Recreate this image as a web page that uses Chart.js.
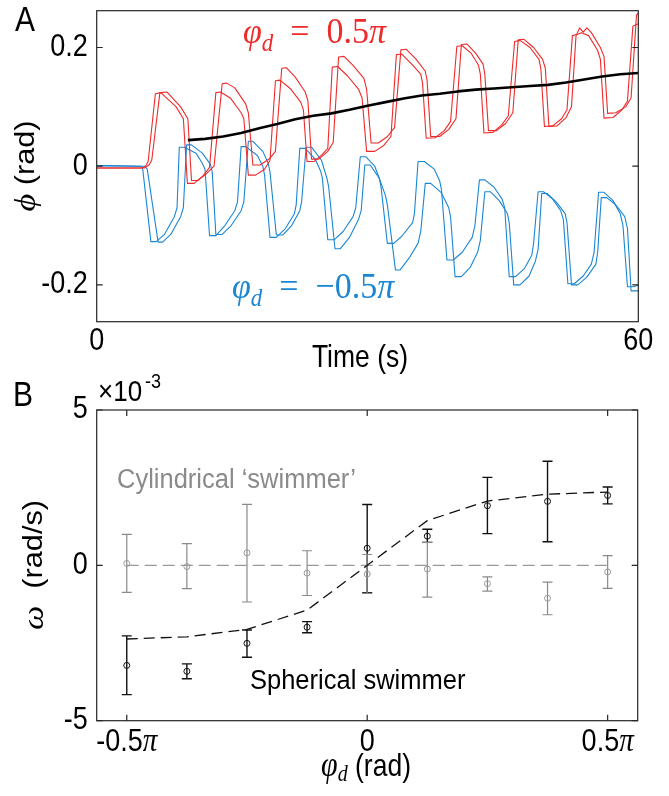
<!DOCTYPE html>
<html>
<head>
<meta charset="utf-8">
<script src="https://cdn.jsdelivr.net/npm/chart.js@4.4.1/dist/chart.umd.min.js"></script>
<style>
  html, body { margin: 0; padding: 0; background: #fff; }
  body { width: 669px; height: 796px; position: relative; overflow: hidden; }
  canvas { position: absolute; left: 0; }
  #chartA { top: 0; }
  #chartB { top: 365px; }
</style>
</head>
<body>
<canvas id="chartA" width="669" height="380"></canvas>
<canvas id="chartB" width="669" height="431"></canvas>
<script>
// ---- panel A: phi(t) for phi_d = +0.5pi (red) and -0.5pi (blue), two runs each ----
var tRed1 = [0, 5.0, 5.4, 5.7, 6.5, 7.1, 8.8, 9.6, 10.05, 10.8, 11.8, 12.5,
  13.2, 13.7, 14.8, 16.0, 16.3, 16.8, 17.6, 18.6, 19.2,
  19.8, 20.3, 21.5, 22.6, 22.9, 23.3, 24.1, 25.0, 25.6,
  26.1, 26.7, 27.8, 29.0, 29.4, 29.9, 30.8, 31.8, 32.6,
  33.2, 33.8, 34.9, 35.9, 36.1, 36.5, 37.5, 38.5, 39.2,
  39.9, 40.5, 41.5, 42.3, 42.5, 42.9, 43.9, 44.9, 45.6,
  46.3, 46.9, 48.0, 49.0, 49.2, 49.6, 50.5, 51.5, 52.1,
  52.7, 53.2, 53.7, 54.5, 55.5, 55.8, 56.2, 57.2, 58.2, 58.8,
  59.4, 60];
var phiRed1 = [-0.003, -0.003, 0.0, 0.008, 0.122, 0.124, 0.100, 0.080, -0.029, -0.029, -0.016, -0.002,
  0.124, 0.125, 0.115, 0.090, 0.080, -0.015, -0.015, -0.005, 0.010,
  0.144, 0.145, 0.130, 0.108, 0.095, 0.008, 0.008, 0.020, 0.030,
  0.167, 0.168, 0.152, 0.130, 0.115, 0.025, 0.025, 0.035, 0.050,
  0.188, 0.189, 0.172, 0.155, 0.140, 0.047, 0.048, 0.060, 0.075,
  0.202, 0.203, 0.190, 0.170, 0.155, 0.056, 0.057, 0.070, 0.085,
  0.210, 0.212, 0.200, 0.180, 0.165, 0.067, 0.068, 0.080, 0.095,
  0.220, 0.222, 0.225, 0.220, 0.195, 0.180, 0.081, 0.082, 0.095, 0.110,
  0.236, 0.240];

var tRed2 = [0, 5.3, 5.8, 6.1, 7.0, 7.8, 9.3, 10.1, 10.5, 11.2, 12.2, 13.0,
  13.9, 14.4, 15.3, 16.5, 16.8, 17.3, 18.1, 19.1, 19.8,
  20.5, 21.0, 22.0, 23.1, 23.4, 23.8, 24.6, 25.6, 26.2,
  26.8, 27.4, 28.4, 29.6, 29.9, 30.4, 31.2, 32.2, 33.0,
  33.7, 34.3, 35.4, 36.4, 36.6, 37.0, 38.0, 39.0, 39.8,
  40.4, 41.0, 42.0, 42.8, 43.0, 43.4, 44.3, 45.3, 46.1,
  46.7, 47.3, 48.4, 49.4, 49.7, 50.1, 51.0, 52.0, 52.6,
  53.1, 53.5, 53.9, 54.3, 54.8, 55.8, 56.2, 56.6, 57.5, 58.6, 59.2,
  59.8, 60];
var phiRed2 = [-0.003, -0.003, 0.002, 0.010, 0.124, 0.125, 0.100, 0.080, -0.024, -0.024, -0.012, 0.0,
  0.139, 0.140, 0.132, 0.105, 0.090, 0.002, 0.002, 0.012, 0.025,
  0.165, 0.166, 0.150, 0.125, 0.110, 0.012, 0.012, 0.025, 0.040,
  0.184, 0.185, 0.170, 0.148, 0.130, 0.039, 0.039, 0.050, 0.065,
  0.196, 0.197, 0.180, 0.160, 0.145, 0.050, 0.050, 0.062, 0.080,
  0.205, 0.206, 0.190, 0.172, 0.155, 0.060, 0.060, 0.072, 0.090,
  0.213, 0.214, 0.200, 0.180, 0.165, 0.067, 0.068, 0.082, 0.100,
  0.220, 0.233, 0.226, 0.233, 0.225, 0.200, 0.185, 0.089, 0.090, 0.100, 0.115,
  0.255, 0.258];

var tBlue1 = [0, 4.9, 5.1, 6.0, 6.6, 7.5, 8.6, 8.9, 9.15, 9.7, 11.0, 11.7,
  12.0, 12.5, 13.2, 14.2, 15.3, 15.6, 16.0, 16.5, 17.8, 18.4,
  18.6, 19.2, 19.9, 20.9, 21.9, 22.1, 22.5, 23.1, 24.2, 24.8,
  25.0, 25.6, 26.3, 27.3, 28.4, 28.7, 29.2, 29.8, 30.8, 31.3,
  31.5, 32.2, 32.9, 33.8, 35.0, 35.2, 35.6, 36.3, 37.4, 38.0,
  38.2, 38.8, 39.5, 40.5, 41.6, 41.9, 42.4, 43.0, 44.0, 44.9,
  45.2, 45.7, 46.4, 47.4, 48.2, 48.4, 48.9, 49.5, 50.5, 51.4,
  51.7, 52.2, 52.9, 53.9, 54.8, 55.1, 55.6, 56.2, 57.2, 58.0,
  58.3, 58.8, 59.5, 60];
var phiBlue1 = [0.001, 0.0, -0.005, -0.127, -0.127, -0.115, -0.085, -0.070, 0.032, 0.032, 0.022, 0.005,
  -0.005, -0.117, -0.117, -0.100, -0.075, -0.060, 0.033, 0.033, 0.018, 0.0,
  -0.015, -0.120, -0.120, -0.105, -0.080, -0.065, 0.030, 0.030, 0.012, -0.008,
  -0.020, -0.124, -0.124, -0.110, -0.085, -0.070, 0.016, 0.016, 0.0, -0.020,
  -0.035, -0.130, -0.130, -0.118, -0.095, -0.080, 0.008, 0.008, -0.005, -0.025,
  -0.040, -0.158, -0.158, -0.145, -0.120, -0.100, -0.023, -0.023, -0.035, -0.055,
  -0.070, -0.186, -0.186, -0.172, -0.150, -0.130, -0.043, -0.043, -0.055, -0.075,
  -0.090, -0.198, -0.198, -0.185, -0.165, -0.145, -0.044, -0.044, -0.058, -0.080,
  -0.100, -0.203, -0.203, -0.200];

var tBlue2 = [0, 5.3, 5.6, 6.8, 7.3, 8.2, 9.3, 9.6, 9.96, 10.5, 11.7, 12.6,
  12.8, 13.2, 13.9, 14.9, 16.0, 16.3, 16.8, 17.3, 18.4, 19.0,
  19.2, 19.9, 20.6, 21.6, 22.5, 22.7, 23.2, 23.8, 24.9, 25.5,
  25.7, 26.4, 27.0, 28.0, 29.0, 29.3, 29.7, 30.3, 31.3, 32.0,
  32.2, 33.1, 33.6, 34.6, 35.6, 35.9, 36.4, 37.0, 38.2, 39.0,
  39.2, 39.7, 40.4, 41.4, 42.2, 42.5, 43.0, 43.6, 44.6, 45.5,
  45.7, 46.2, 46.9, 47.9, 48.6, 48.9, 49.3, 49.9, 50.9, 51.9,
  52.1, 52.6, 53.3, 54.3, 55.3, 55.5, 55.9, 56.5, 57.5, 58.5,
  58.8, 59.2, 60];
var phiBlue2 = [0.001, 0.0, -0.005, -0.128, -0.128, -0.115, -0.085, -0.070, 0.036, 0.036, 0.022, 0.003,
  -0.010, -0.115, -0.115, -0.100, -0.075, -0.060, 0.042, 0.042, 0.025, 0.005,
  -0.010, -0.116, -0.116, -0.100, -0.075, -0.060, 0.032, 0.032, 0.010, -0.020,
  -0.035, -0.139, -0.139, -0.120, -0.090, -0.075, 0.002, 0.002, -0.020, -0.050,
  -0.065, -0.175, -0.175, -0.155, -0.130, -0.110, -0.029, -0.029, -0.045, -0.070,
  -0.085, -0.186, -0.186, -0.170, -0.145, -0.125, -0.043, -0.043, -0.058, -0.080,
  -0.095, -0.200, -0.200, -0.185, -0.160, -0.140, -0.046, -0.046, -0.060, -0.080,
  -0.095, -0.200, -0.200, -0.187, -0.165, -0.145, -0.053, -0.053, -0.065, -0.085,
  -0.105, -0.210, -0.210];

var tMean = [10.1, 12, 14, 16, 18, 20, 22, 24, 26, 28, 30, 32, 34, 36, 38, 40, 42, 44, 46, 48, 50, 52, 54, 56, 58, 60];
var phiMean = [0.044, 0.046, 0.050, 0.056, 0.064, 0.071, 0.079, 0.085, 0.089, 0.095, 0.102, 0.108, 0.114,
  0.119, 0.122, 0.126, 0.129, 0.131, 0.133, 0.135, 0.137, 0.141, 0.146, 0.151, 0.155, 0.157];

var phiTicksA = [-0.2, 0, 0.2];
var phiTickTextA = ['-0.2', '0', '0.2'];
var timeTicks = [0, 60];

// ---- panel B: omega (x1e-3 rad/s) vs phi_d (in units of pi) ----
var phiD = [-0.5, -0.375, -0.25, -0.125, 0, 0.125, 0.25, 0.375, 0.5];
var sphMean = [-3.22, -3.41, -2.51, -1.99, 0.55, 0.94, 1.92, 2.06, 2.25];
var sphHigh = [-2.27, -3.17, -2.08, -1.81, 1.96, 1.16, 2.83, 3.35, 2.52];
var sphLow = [-4.16, -3.65, -2.96, -2.17, -0.88, 0.74, 1.02, 0.76, 1.98];
var cylMean = [0.06, -0.04, 0.40, -0.25, -0.28, -0.12, -0.59, -1.06, -0.21];
var cylHigh = [1.00, 0.70, 1.96, 0.47, 0.35, 0.74, -0.37, -0.54, 0.31];
var cylLow = [-0.87, -0.75, -1.18, -0.97, -0.90, -1.02, -0.83, -1.59, -0.74];
var fitOmega = [-2.37, -2.30, -2.06, -1.44, 0, 1.44, 2.07, 2.29, 2.36];
var omegaTicks = [-5, 0, 5];
var phiDTicks = [-0.5, 0, 0.5];
var phiDTickText = ['-0.5', '0', '0.5'];

var RED = '#ee2a2a';
var BLUE = '#1a86d4';
var AXIS = '#262626';
var GRAY = '#8a8a8a';
var SANS = '"Liberation Sans", Arial, Helvetica, sans-serif';
var SERIF = '"Liberation Serif", "DejaVu Serif", serif';
var SY = 1.14; // axis text in the figure is a bit taller than it is wide

function xy(xs, ys) {
  return xs.map(function (x, i) { return {x: x, y: ys[i]}; });
}

// draw a row of text pieces with different fonts (for the math bits)
function drawRuns(ctx, runs, x, y, align, sy) {
  var w = 0;
  runs.forEach(function (r) { ctx.font = r.font; r.w = ctx.measureText(r.text).width; w += r.w; });
  var cx = align === 'center' ? -w / 2 : (align === 'right' ? -w : 0);
  ctx.save();
  ctx.translate(x, y);
  ctx.scale(1, sy || 1);
  ctx.textAlign = 'left';
  runs.forEach(function (r) {
    ctx.font = r.font;
    ctx.fillText(r.text, cx, r.dy || 0);
    cx += r.w;
  });
  ctx.restore();
}

function drawRotated(ctx, runs, x, y) {
  ctx.save();
  ctx.translate(x, y);
  ctx.scale(1, SY);
  ctx.rotate(-Math.PI / 2);
  drawRuns(ctx, runs, 0, 0, 'center');
  ctx.restore();
}

function drawBox(ctx, a) {
  ctx.save();
  ctx.strokeStyle = AXIS;
  ctx.lineWidth = 1.2;
  ctx.strokeRect(a.left, a.top, a.right - a.left, a.bottom - a.top);
  ctx.restore();
}

function lineSet(xs, ys, color, width) {
  return {data: xy(xs, ys), borderColor: color, borderWidth: width, pointRadius: 0,
    tension: 0, fill: false, borderJoinStyle: 'round'};
}

var panelA = {
  id: 'panelA',
  afterDraw: function (chart) {
    var ctx = chart.ctx, a = chart.chartArea, x = chart.scales.x, y = chart.scales.y;
    drawBox(ctx, a);
    ctx.save();
    ctx.strokeStyle = AXIS;
    ctx.lineWidth = 1.2;
    phiTicksA.forEach(function (v) {
      var py = y.getPixelForValue(v);
      ctx.beginPath();
      ctx.moveTo(a.left, py); ctx.lineTo(a.left + 6, py);
      ctx.moveTo(a.right, py); ctx.lineTo(a.right - 6, py);
      ctx.stroke();
    });
    ctx.fillStyle = '#000';
    ctx.textBaseline = 'middle';
    var tickFont = '27px ' + SANS;
    phiTicksA.forEach(function (v, i) {
      drawRuns(ctx, [{text: phiTickTextA[i], font: tickFont}], a.left - 9, y.getPixelForValue(v), 'right', SY);
    });
    timeTicks.forEach(function (v) {
      drawRuns(ctx, [{text: String(v), font: tickFont}], x.getPixelForValue(v), a.bottom + 20, 'center', SY);
    });
    drawRuns(ctx, [{text: 'A', font: '30px ' + SANS}], 25, 22, 'center', SY);
    drawRuns(ctx, [{text: 'Time (s)', font: '26.5px ' + SANS}], 360, 358, 'center', 1.18);
    drawRotated(ctx, [{text: 'ϕ', font: 'italic 30px ' + SERIF}, {text: ' (rad)', font: '27px ' + SANS}], 27, 166);
    ctx.textBaseline = 'alphabetic';
    ctx.fillStyle = RED;
    drawRuns(ctx, [{text: 'φ', font: 'italic 34px ' + SERIF}, {text: 'd', font: 'italic 23px ' + SERIF, dy: 7},
      {text: '\u2002=\u20020.5', font: '34px ' + SERIF}, {text: 'π', font: 'italic 34px ' + SERIF}], 243, 43, 'left', 1.08);
    ctx.fillStyle = BLUE;
    drawRuns(ctx, [{text: 'φ', font: 'italic 34px ' + SERIF}, {text: 'd', font: 'italic 23px ' + SERIF, dy: 7},
      {text: '\u2002=\u2002−0.5', font: '34px ' + SERIF}, {text: 'π', font: 'italic 34px ' + SERIF}], 232, 298, 'left', 1.08);
    ctx.restore();
  }
};

var errorBars = {
  id: 'errorBars',
  beforeDatasetsDraw: function (chart) {
    var ctx = chart.ctx, x = chart.scales.x, y = chart.scales.y;
    chart.data.datasets.forEach(function (ds) {
      if (!ds.errLow) return;
      ctx.save();
      ctx.strokeStyle = ds.borderColor;
      ctx.lineWidth = ds.barWidth;
      ds.data.forEach(function (p, i) {
        var px = x.getPixelForValue(p.x);
        var hi = y.getPixelForValue(ds.errHigh[i]);
        var lo = y.getPixelForValue(ds.errLow[i]);
        ctx.beginPath();
        ctx.moveTo(px, hi); ctx.lineTo(px, lo);
        ctx.moveTo(px - 5, hi); ctx.lineTo(px + 5, hi);
        ctx.moveTo(px - 5, lo); ctx.lineTo(px + 5, lo);
        ctx.stroke();
      });
      ctx.restore();
    });
  }
};

var panelB = {
  id: 'panelB',
  afterDraw: function (chart) {
    var ctx = chart.ctx, a = chart.chartArea, x = chart.scales.x, y = chart.scales.y;
    drawBox(ctx, a);
    ctx.save();
    ctx.strokeStyle = AXIS;
    ctx.lineWidth = 1.2;
    phiDTicks.forEach(function (v) {
      var px = x.getPixelForValue(v);
      ctx.beginPath();
      ctx.moveTo(px, a.top); ctx.lineTo(px, a.top + 6);
      ctx.moveTo(px, a.bottom); ctx.lineTo(px, a.bottom - 6);
      ctx.stroke();
    });
    omegaTicks.forEach(function (v) {
      var py = y.getPixelForValue(v);
      ctx.beginPath();
      ctx.moveTo(a.left, py); ctx.lineTo(a.left + 6, py);
      ctx.moveTo(a.right, py); ctx.lineTo(a.right - 6, py);
      ctx.stroke();
    });
    ctx.fillStyle = '#000';
    ctx.textBaseline = 'middle';
    var tickFont = '27px ' + SANS;
    omegaTicks.forEach(function (v) {
      drawRuns(ctx, [{text: String(v), font: tickFont}], a.left - 9, y.getPixelForValue(v), 'right', SY);
    });
    phiDTicks.forEach(function (v, i) {
      var runs = [{text: phiDTickText[i], font: tickFont}];
      if (v !== 0) runs.push({text: 'π', font: 'italic 29px ' + SERIF});
      drawRuns(ctx, runs, x.getPixelForValue(v), a.bottom + 22, 'center', SY);
    });
    drawRuns(ctx, [{text: 'B', font: '30px ' + SANS}], 23, 32, 'center', SY);
    drawRuns(ctx, [{text: 'φ', font: 'italic 30px ' + SERIF}, {text: 'd', font: 'italic 20px ' + SERIF, dy: 7},
      {text: ' (rad)', font: '26.5px ' + SANS}], 366, 402, 'center', 1.18);
    drawRotated(ctx, [{text: 'ω', font: 'italic 30px ' + SERIF}, {text: '  (rad/s)', font: '27px ' + SANS}], 35, 200);
    ctx.textBaseline = 'alphabetic';
    drawRuns(ctx, [{text: '×10', font: '26px ' + SANS}], 98, 36, 'left', SY);
    drawRuns(ctx, [{text: '-3', font: '18px ' + SANS}], 145, 23, 'left', SY);
    ctx.fillStyle = GRAY;
    drawRuns(ctx, [{text: 'Cylindrical ‘swimmer’', font: '25.5px ' + SANS}], 117, 123, 'left', 1.05);
    ctx.fillStyle = '#000';
    drawRuns(ctx, [{text: 'Spherical swimmer', font: '25.5px ' + SANS}], 250, 324, 'left', 1.05);
    ctx.restore();
  }
};

function fixWidth(w) {
  return function (s) { s.width = w; s.paddingTop = 0; s.paddingBottom = 0; };
}
function fixHeight(h) {
  return function (s) { s.height = h; s.paddingLeft = 0; s.paddingRight = 0; };
}

var common = {
  responsive: false,
  animation: false,
  events: [],
  plugins: {legend: {display: false}, tooltip: {enabled: false}}
};

var hiddenAxis = {
  ticks: {display: false},
  grid: {display: false, drawTicks: false},
  border: {display: false}
};

new Chart(document.getElementById('chartA'), {
  type: 'line',
  data: {
    datasets: [
      lineSet(tMean, phiMean, '#000', 2.6),
      lineSet(tRed1, phiRed1, RED, 1.1),
      lineSet(tRed2, phiRed2, RED, 1.1),
      lineSet(tBlue1, phiBlue1, BLUE, 1.1),
      lineSet(tBlue2, phiBlue2, BLUE, 1.1)
    ]
  },
  options: Object.assign({}, common, {
    layout: {padding: {top: 10.7, right: 30.7, left: 0, bottom: 0}},
    scales: {
      x: Object.assign({type: 'linear', min: 0, max: 60, afterFit: fixHeight(58.3)}, hiddenAxis),
      y: Object.assign({type: 'linear', min: -0.262, max: 0.262, afterFit: fixWidth(96.7)}, hiddenAxis)
    }
  }),
  plugins: [panelA]
});

new Chart(document.getElementById('chartB'), {
  type: 'line',
  data: {
    datasets: [
      {data: xy(phiD, fitOmega), borderColor: '#111', borderWidth: 1.3, borderDash: [11, 6],
        pointRadius: 0, tension: 0, fill: false},
      {data: xy([phiD[0], phiD[phiD.length - 1]], [0, 0]), borderColor: '#999', borderWidth: 1.3,
        borderDash: [12, 6], pointRadius: 0, fill: false},
      {data: xy(phiD, sphMean), errLow: sphLow, errHigh: sphHigh, barWidth: 1.4, showLine: false,
        borderColor: '#111', pointRadius: 3, pointBorderWidth: 1, pointBackgroundColor: 'rgba(255,255,255,0)',
        pointBorderColor: '#111'},
      {data: xy(phiD, cylMean), errLow: cylLow, errHigh: cylHigh, barWidth: 1.2, showLine: false,
        borderColor: GRAY, pointRadius: 3, pointBorderWidth: 1, pointBackgroundColor: 'rgba(255,255,255,0)',
        pointBorderColor: '#9a9a9a'}
    ]
  },
  options: Object.assign({}, common, {
    layout: {padding: {top: 45, right: 31.3, left: 0, bottom: 0}},
    scales: {
      x: Object.assign({type: 'linear', min: -0.5625, max: 0.5625, afterFit: fixHeight(75.3)}, hiddenAxis),
      y: Object.assign({type: 'linear', min: -5, max: 5, afterFit: fixWidth(96.7)}, hiddenAxis)
    }
  }),
  plugins: [errorBars, panelB]
});
</script>
</body>
</html>
